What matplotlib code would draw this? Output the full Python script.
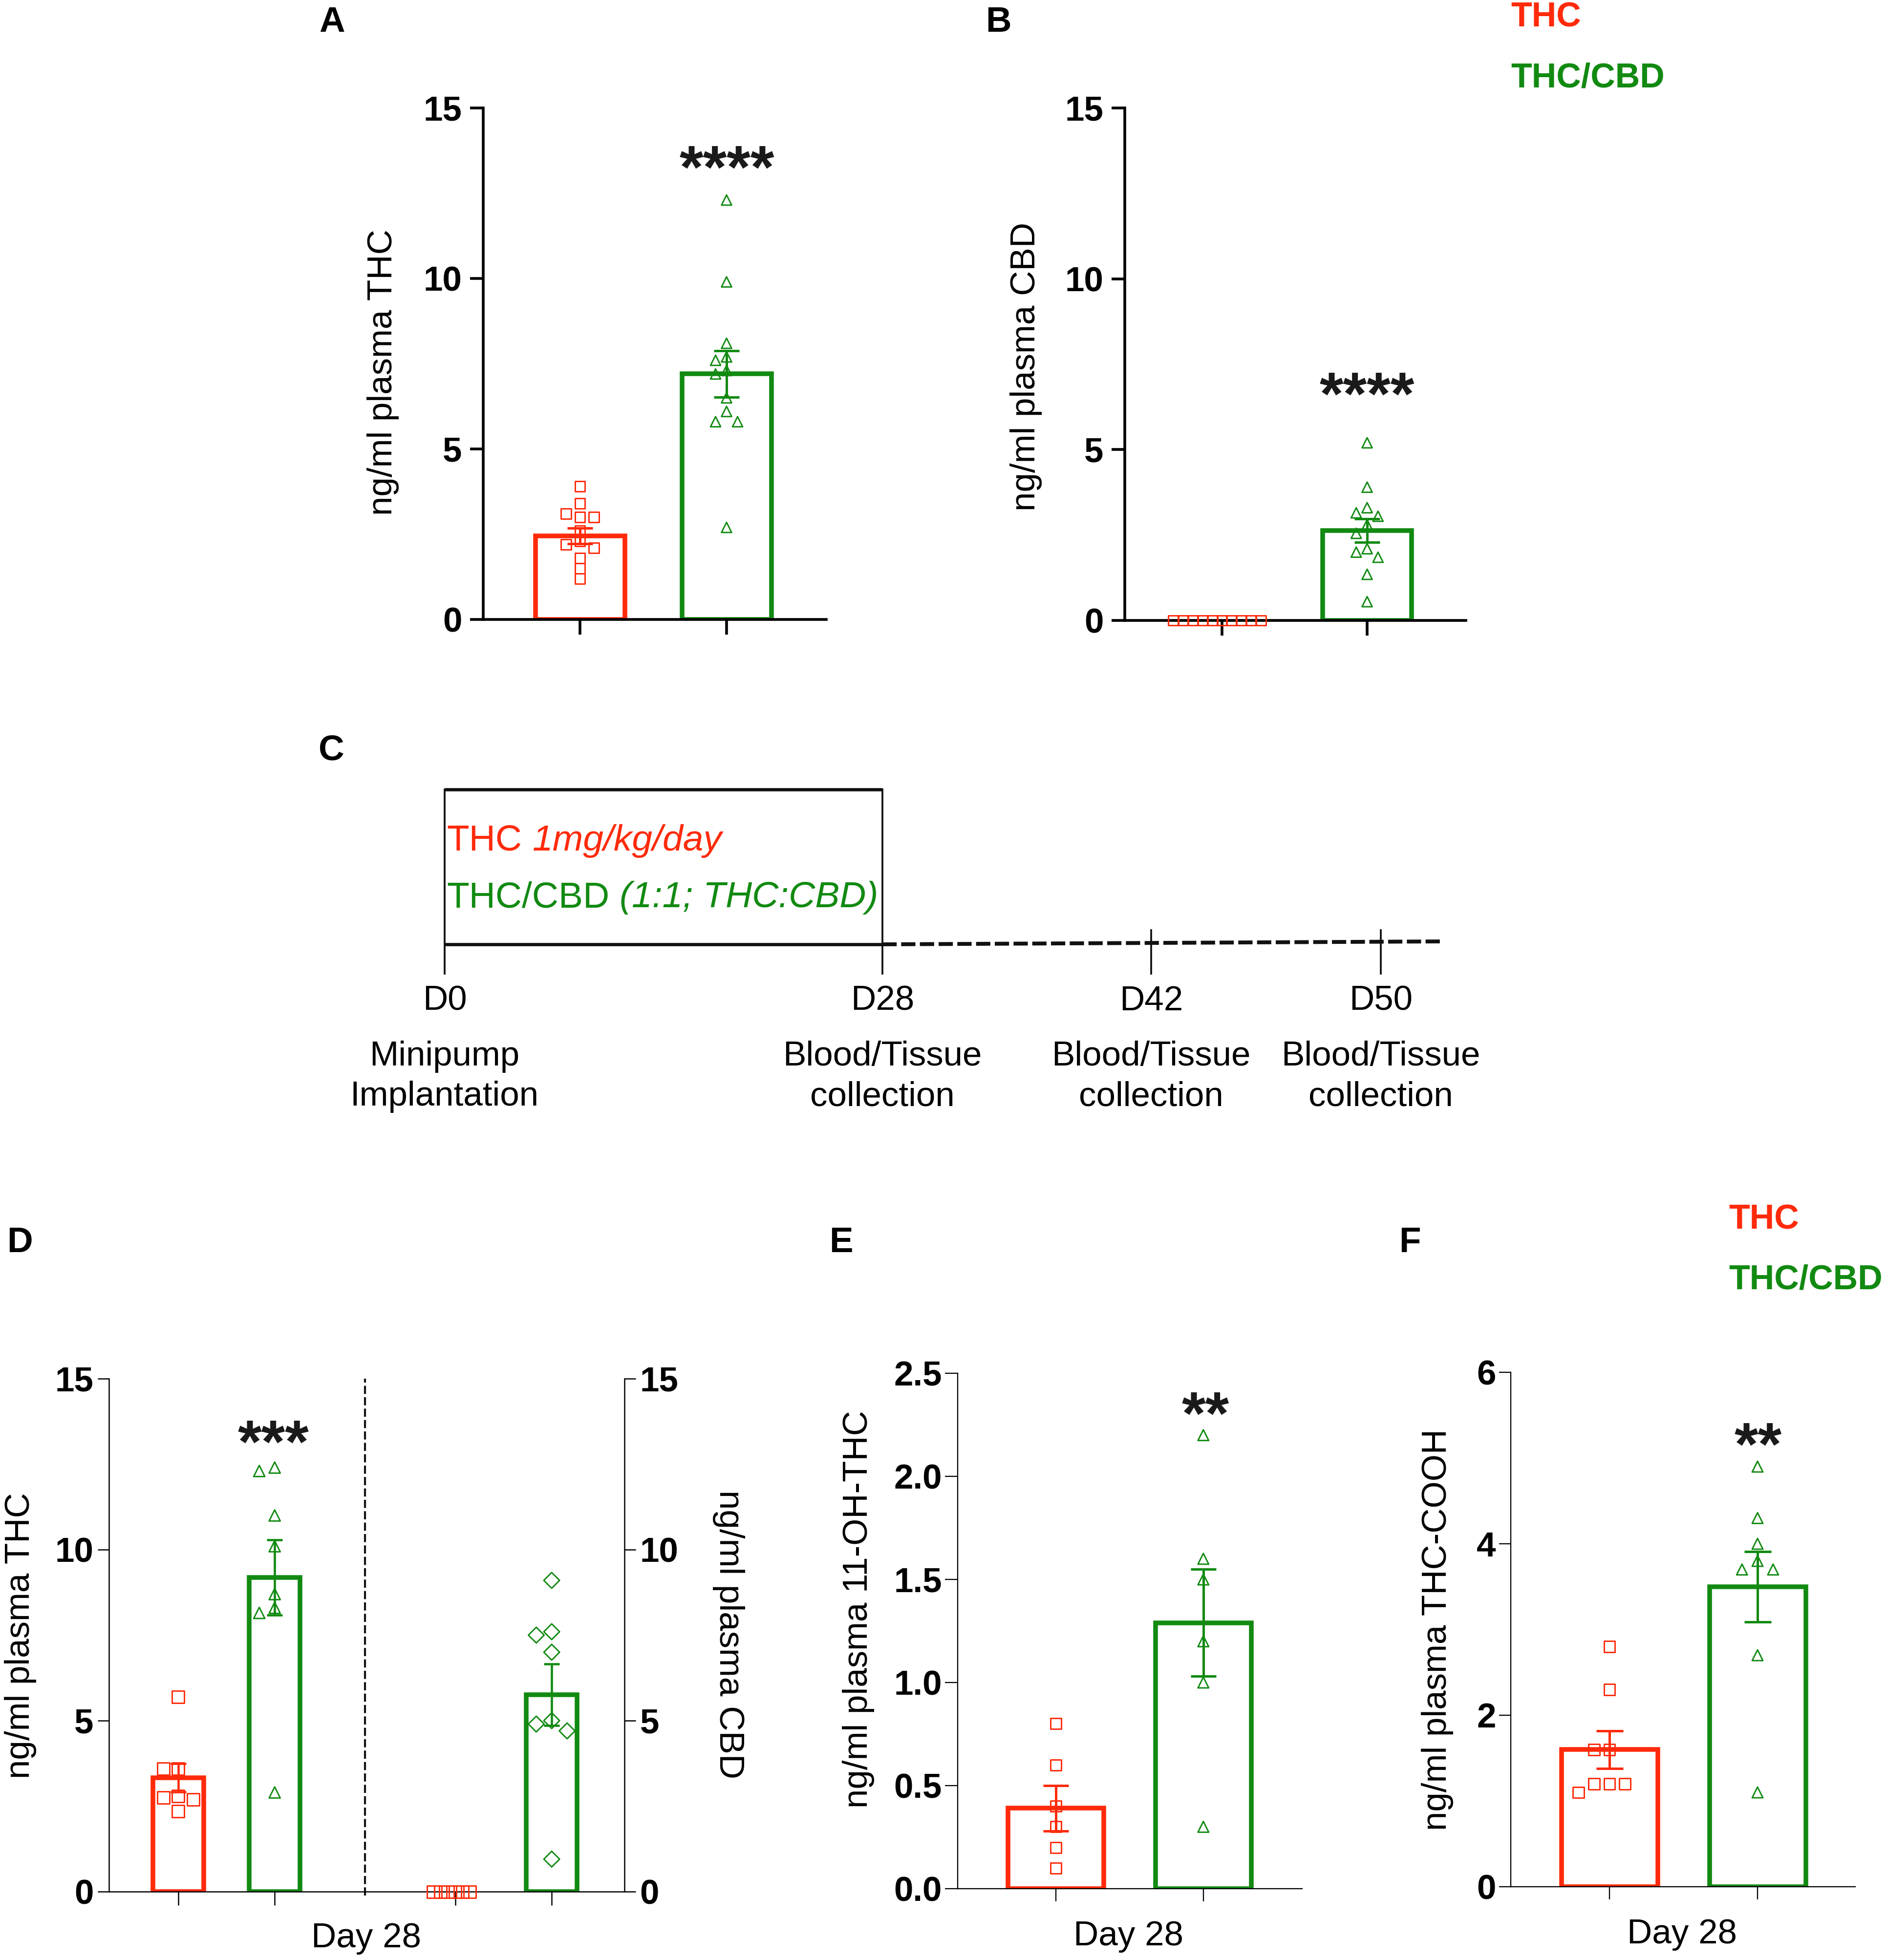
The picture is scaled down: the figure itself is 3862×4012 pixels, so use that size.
import numpy as np
import matplotlib
matplotlib.use('Agg')
import matplotlib.pyplot as plt

# ── Data (ng/ml plasma) ─────────────────────────────────────────────────────
# A: plasma THC, THC vs THC/CBD
a_thc = [3.9, 3.4, 3.1, 3.0, 3.0, 2.6, 2.3, 2.2, 2.1, 1.8, 1.5, 1.2]
a_combo = [12.3, 9.9, 8.1, 7.7, 7.6, 7.3, 7.2, 6.5, 6.1, 5.8, 5.8, 2.7]
a_mean = [2.45, 7.2]
a_sem = [0.23, 0.68]

# B: plasma CBD
b_thc = [0, 0, 0, 0, 0, 0, 0, 0, 0, 0]
b_combo = [5.2, 3.9, 3.3, 3.15, 3.05, 2.8, 2.55, 2.1, 2.0, 1.85, 1.35, 0.55]
b_mean = [0, 2.63]
b_sem = [0, 0.34]

# D: day 28, plasma THC (left) and plasma CBD (right)
d_thc = [5.7, 3.6, 3.6, 2.8, 2.75, 2.7, 2.35]
d_combo = [12.4, 12.3, 11.0, 10.1, 8.7, 8.3, 8.15, 2.9]
d_mean = [3.33, 9.18]
d_sem = [0.42, 1.1]
d_cbd_thc = [0, 0, 0, 0, 0, 0]
d_cbd_combo = [9.1, 7.6, 7.5, 7.0, 5.0, 4.9, 4.7, 0.95]
d_cbd_mean = [0, 5.76]
d_cbd_sem = [0, 0.9]

# E: plasma 11-OH-THC
e_thc = [0.8, 0.6, 0.4, 0.3, 0.2, 0.1]
e_combo = [2.2, 1.6, 1.5, 1.2, 1.0, 0.3]
e_mean = [0.39, 1.29]
e_sem = [0.11, 0.26]

# F: plasma THC-COOH
f_thc = [2.8, 2.3, 1.6, 1.6, 1.2, 1.2, 1.2, 1.1]
f_combo = [4.9, 4.3, 4.0, 3.8, 3.7, 3.7, 2.7, 1.1]
f_mean = [1.6, 3.5]
f_sem = [0.22, 0.41]

days = ['D0', 'D28', 'D42', 'D50']
events = ['Minipump\nImplantation', 'Blood/Tissue\ncollection',
          'Blood/Tissue\ncollection', 'Blood/Tissue\ncollection']

# ── Style ───────────────────────────────────────────────────────────────────
RED = '#FF2A0A'
GREEN = '#128A12'
W, H = 3862, 4012

plt.rcParams.update({
    'font.family': 'Liberation Sans',
    'lines.scale_dashes': False,
})

fig = plt.figure(figsize=(W / 300, H / 300), dpi=300)

# pixel-space overlay for schematic + annotations
ov = fig.add_axes([0, 0, 1, 1])
ov.set_xlim(0, W)
ov.set_ylim(H, 0)
ov.axis('off')


def px_axes(l, t, r, b):
    return fig.add_axes([l / W, 1 - b / H, (r - l) / W, (b - t) / H])


def swarm(vals, dy, dx):
    vals = np.asarray(vals, float)
    offs = np.zeros(len(vals))
    done = []
    for i in np.argsort(-vals, kind='stable'):
        k = 0
        while True:
            cand = ((k + 1) // 2) * dx * (-1 if k % 2 else 1)
            if all(abs(vals[j] - vals[i]) >= dy or abs(offs[j] - cand) >= dx * 0.99 for j in done):
                break
            k += 1
        offs[i] = cand
        done.append(i)
    return offs


def group(ax, x, vals, mean, sem, color, marker, ms, width, cap, dy, dx, elw=1.2):
    if mean > 0:
        ax.bar(x, mean, width, fill=False, edgecolor=color, linewidth=2.3, zorder=2)
        ax.errorbar(x, mean, yerr=sem, fmt='none', ecolor=color, elinewidth=elw,
                    capsize=cap, capthick=elw, zorder=4)
    off = swarm(vals, dy, dx)
    ax.scatter(x + off, vals, marker=marker, s=ms, facecolors='none', edgecolors=color,
               linewidths=0.7, zorder=3, clip_on=False)


def style(ax, ticks, labels, xt, xlim, ylim, lw, ylen, ypad, xlen):
    for s in ['top', 'right']:
        ax.spines[s].set_visible(False)
    for s in ['left', 'bottom', 'right']:
        ax.spines[s].set_linewidth(lw)
    ax.set_xlim(*xlim)
    ax.set_ylim(*ylim)
    ax.set_yticks(ticks)
    ax.set_yticklabels(labels, fontweight='bold', fontsize=17)
    ax.set_xticks(xt)
    ax.set_xticklabels([])
    ax.tick_params(axis='y', length=ylen, width=lw, pad=ypad, direction='out')
    ax.tick_params(axis='x', length=xlen, width=lw, direction='out')
    ax.patch.set_alpha(0)


# ── Panel A ────────────────────────────────────────────────────────────────
axA = px_axes(989, 221, 1691, 1268)
group(axA, 0, a_thc, a_mean[0], a_sem[0], RED, 's', 25, 0.61, 6.3, 0.3, 0.095)
group(axA, 1, a_combo, a_mean[1], a_sem[1], GREEN, '^', 25, 0.61, 6.3, 0.3, 0.075)
style(axA, [0, 5, 10, 15], ['0', '5', '10', '15'], [0, 1], (-0.66, 1.68), (0, 15),
      1.35, 6.5, 4, 7.4)

# ── Panel B ────────────────────────────────────────────────────────────────
axB = px_axes(2302, 221, 3000, 1270)
group(axB, 0, b_thc, b_mean[0], b_sem[0], RED, 's', 25, 0.61, 6.3, 0.3, 0.067)
group(axB, 1, b_combo, b_mean[1], b_sem[1], GREEN, '^', 25, 0.61, 6.3, 0.3, 0.075)
style(axB, [0, 5, 10, 15], ['0', '5', '10', '15'], [0, 1], (-0.67, 1.68), (0, 15),
      1.35, 6.5, 4, 7.4)

# ── Panel D ────────────────────────────────────────────────────────────────
xd = [0, 1, 2.875, 3.875]
axD = px_axes(223, 2822, 1278, 3872)
group(axD, xd[0], d_thc, d_mean[0], d_sem[0], RED, 's', 36, 0.53, 3.8, 0.36, 0.155, elw=1.1)
group(axD, xd[1], d_combo, d_mean[1], d_sem[1], GREEN, '^', 30, 0.53, 3.8, 0.36, 0.16, elw=1.1)
group(axD, xd[2], d_cbd_thc, d_cbd_mean[0], d_cbd_sem[0], RED, 's', 36, 0.53, 3.8, 0.36, 0.076, elw=1.1)
group(axD, xd[3], d_cbd_combo, d_cbd_mean[1], d_cbd_sem[1], GREEN, 'D', 30, 0.53, 3.8, 0.36, 0.16, elw=1.1)
style(axD, [0, 5, 10, 15], ['0', '5', '10', '15'], xd, (-0.72, 4.63), (0, 15),
      0.6, 5.6, 2, 6.7)
axD.spines['right'].set_visible(True)
axD.tick_params(axis='y', right=True, labelright=True)
axD.axvline((xd[1] + xd[2]) / 2, ymin=-0.008, ymax=1, color='#111111', lw=1.0,
            ls=(0, (4, 1.6)), clip_on=False)

# ── Panel E ────────────────────────────────────────────────────────────────
axE = px_axes(1960, 2811, 2665, 3866)
group(axE, 0, e_thc, e_mean[0], e_sem[0], RED, 's', 28, 0.65, 6.3, 0.052, 0.1)
group(axE, 1, e_combo, e_mean[1], e_sem[1], GREEN, '^', 28, 0.65, 6.3, 0.052, 0.1)
et = [0, 0.5, 1.0, 1.5, 2.0, 2.5]
style(axE, et, [f'{v:.1f}' for v in et], [0, 1], (-0.666, 1.67), (0, 2.5),
      0.55, 6.2, 1.5, 6.3)

# ── Panel F ────────────────────────────────────────────────────────────────
axF = px_axes(3092, 2809, 3797, 3862)
group(axF, 0, f_thc, f_mean[0], f_sem[0], RED, 's', 30, 0.65, 6.6, 0.13, 0.105)
group(axF, 1, f_combo, f_mean[1], f_sem[1], GREEN, '^', 28, 0.65, 6.6, 0.13, 0.105)
style(axF, [0, 2, 4, 6], ['0', '2', '4', '6'], [0, 1], (-0.667, 1.66), (0, 6),
      0.55, 5.8, 1.5, 6.3)

# ── Text: labels, letters, legends, stars ───────────────────────────────────
def t(x, y, s, **kw):
    kw.setdefault('ha', 'center')
    kw.setdefault('va', 'center')
    return ov.text(x, y, s, **kw)

for (x, y), letter in zip([(680, 46), (2043, 46), (678, 1537), (40, 2544), (1721, 2544), (2885, 2544)],
                          'ABCDEF'):
    t(x, y, letter, fontsize=17.5, fontweight='bold')

for x0, y0 in [(3092, 36), (3538, 2497)]:
    t(x0, y0, 'THC', ha='left', color=RED, fontsize=16.8, fontweight='bold')
    t(x0, y0 + 124, 'THC/CBD', ha='left', color=GREEN, fontsize=16.8, fontweight='bold')

t(784, 762, 'ng/ml plasma THC', rotation=90, fontsize=17)
t(2100, 750, 'ng/ml plasma CBD', rotation=90, fontsize=17)
t(42, 3348, 'ng/ml plasma THC', rotation=90, fontsize=17)
t(1491, 3345, 'ng/ml plasma CBD', rotation=270, fontsize=17)
t(1757, 3294, 'ng/ml plasma 11-OH-THC', rotation=90, fontsize=17)
t(2942, 3336, 'ng/ml plasma THC-COOH', rotation=90, fontsize=17)

for x, y in [(750, 3968), (2310, 3964), (3443, 3960)]:
    t(x, y, 'Day 28', fontsize=17)

for x, y, s in [(1488, 323, '****'), (2798, 787, '****'), (560, 2932, '***'),
                (2467, 2874, '**'), (3598, 2937, '**')]:
    t(x, y + 62, s, va='baseline', fontsize=30, fontweight='bold', color='#1a1a1a')

# ── Panel C: treatment timeline ─────────────────────────────────────────────
day_x = [910, 1806, 2356, 2826]
box_l, box_r, box_t, box_b = day_x[0], day_x[1], 1616, 1933
ov.plot([box_l, box_r], [box_t, box_t], color='#111111', lw=1.6, solid_capstyle='butt')
ov.plot([box_l, box_r], [box_b, box_b], color='#111111', lw=1.6, solid_capstyle='butt')
ov.plot([box_l, box_l], [box_t, 1993], color='#111111', lw=0.9)
ov.plot([box_r, box_r], [box_t, 1993], color='#111111', lw=0.9)
ov.plot([box_r, 2950], [box_b, 1927], color='#111111', lw=1.9, ls=(0, (7, 2.2)))
for x in day_x[2:]:
    ov.plot([x, x], [1904, 1993], color='#111111', lw=0.9)

for x, d, ev in zip(day_x, days, events):
    t(x, 2050, d, fontsize=17)
    t(x, 2204, ev, fontsize=17, linespacing=1.32, multialignment='center')

t1 = t(914, 1721, 'THC', ha='left', color=RED, fontsize=18)
ov.annotate('1mg/kg/day', xy=(1, 0), xycoords=t1, xytext=(5, 0), textcoords='offset points',
            ha='left', va='bottom', color=RED, fontsize=18, style='italic')
t2 = t(914, 1838, 'THC/CBD', ha='left', color=GREEN, fontsize=18)
ov.annotate('(1:1; THC:CBD)', xy=(1, 0), xycoords=t2, xytext=(5, 0), textcoords='offset points',
            ha='left', va='bottom', color=GREEN, fontsize=18, style='italic')

fig.savefig('out.png', dpi=300)
